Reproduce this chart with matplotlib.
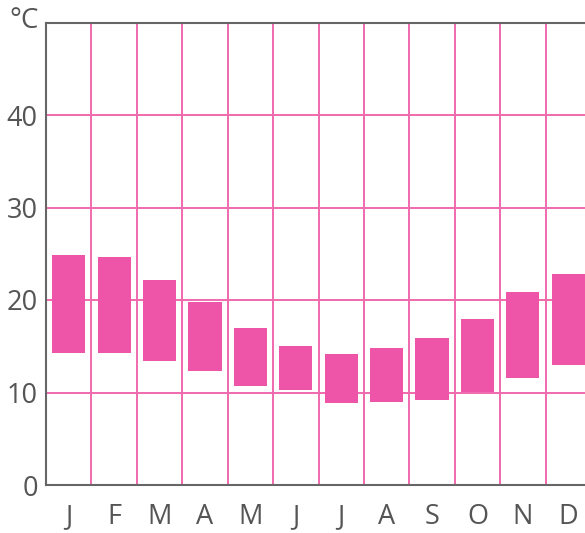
import matplotlib
matplotlib.use("Agg")
import matplotlib.pyplot as plt
import numpy as np

months = ["J", "F", "M", "A", "M", "J", "J", "A", "S", "O", "N", "D"]
t_min = [14.3, 14.3, 13.4, 12.3, 10.7, 10.3, 8.9, 9.0, 9.2, 10.1, 11.6, 13.0]
t_max = [24.9, 24.6, 22.2, 19.8, 17.0, 15.0, 14.2, 14.8, 15.9, 17.9, 20.9, 22.8]
y_ticks = [0, 10, 20, 30, 40]

plt.rcParams['font.family'] = ['Open Sans', 'DejaVu Sans']

fig = plt.figure(figsize=(5.85, 5.33), dpi=100)
ax = fig.add_axes([46/585, 48/533, 545/585, 462.5/533])

x = np.arange(len(months))
bar_color = '#ee55a8'
grid_color = '#f06aae'
ax.bar(x, np.array(t_max) - np.array(t_min), bottom=t_min, width=0.73,
       color=bar_color, zorder=3)

ax.set_xlim(-0.5, len(months) - 0.5)
ax.set_ylim(0, 50)
for b in np.arange(0.5, len(months) - 0.5, 1.0):
    ax.axvline(b, color=grid_color, lw=1.4, zorder=1)
for yv in y_ticks[1:]:
    ax.axhline(yv, color=grid_color, lw=1.4, zorder=1)

ax.set_xticks(x)
ax.set_xticklabels(months)
ax.set_yticks(y_ticks)
ax.tick_params(axis='both', length=0, labelsize=19.5, colors='#555555')
ax.tick_params(axis='x', pad=13)
ax.tick_params(axis='y', pad=6)
for s in ['left', 'top', 'bottom']:
    ax.spines[s].set_color('#666666')
    ax.spines[s].set_linewidth(1.5)
ax.spines['right'].set_visible(False)

fig.text(9/585, 1 - 21/533, "°C", fontsize=20, color='#555555',
         ha='left', va='center')

fig.savefig("out.png", dpi=100)
